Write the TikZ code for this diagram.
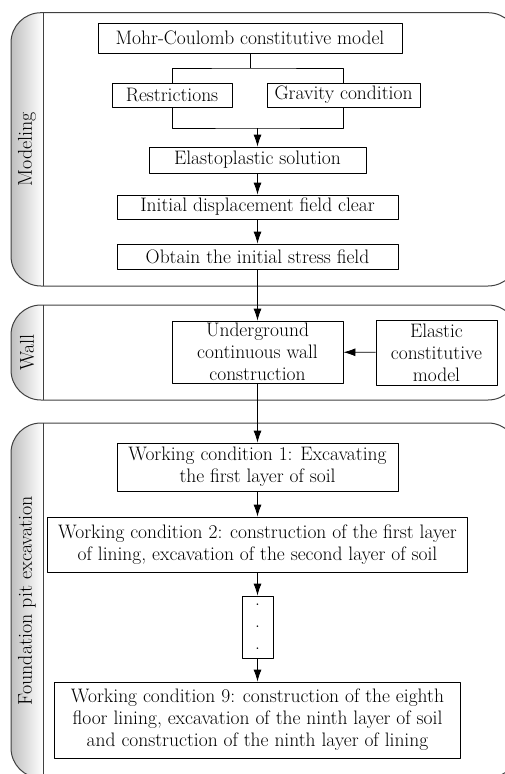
\documentclass[tikz,border=0pt]{standalone}
\usetikzlibrary{arrows.meta}
\begin{document}
\begin{tikzpicture}[x=1pt,y=-1pt,>={Latex[length=12pt,width=8pt]},line join=round,line width=.8pt,
	box/.style={draw,fill=white,inner sep=0pt,align=center,font=\fontsize{19.5}{22}\selectfont},
	lane/.style={draw=black!75,line width=1pt,rounded corners=30pt},
	strip/.style={left color=black!25,right color=white},
	lanetitle/.style={rotate=90,font=\fontsize{20}{22}\selectfont}]
	\def\xl{11} \def\xs{43} \def\xr{518} % mép các làn
	\useasboundingbox (0,0) rectangle (504,774);
	% các làn
	\foreach \id/\top/\bot/\name in {model/12.7/286/Modeling,wall/305/400/Wall,pit/423/778/Foundation pit excavation}{
		\begin{scope}
			\clip[rounded corners=30pt] (\xl,\top) rectangle (\xr,\bot);
			\shade[strip] (\xl,\top) rectangle (\xs,\bot);
		\end{scope}
		\draw[lane] (\xl,\top) rectangle (\xr,\bot);
		\draw[draw=black!75,line width=1pt] (\xs,\top) -- (\xs,\bot);
		\node[lanetitle] (\id) at ({(\xl+\xs)/2},{(\top+\bot)/2}) {\name};
	}
	% Modeling
	\node[box,minimum width=304pt,minimum height=30pt] (mohr) at (250,38) {Mohr-Coulomb constitutive model};
	\node[box,minimum width=120pt,minimum height=24pt] (restr) at (172,95) {Restrictions};
	\node[box,minimum width=153pt,minimum height=24pt] (grav) at (343.5,95) {Gravity condition};
	\node[box,minimum width=217pt,minimum height=26pt] (elasto) at (257.5,160) {Elastoplastic solution};
	\node[box,minimum width=281pt,minimum height=24pt] (disp) at (257.5,207) {Initial displacement field clear};
	\node[box,minimum width=281pt,minimum height=25pt] (stress) at (257.5,256.5) {Obtain the initial stress field};
	% Wall
	\node[box,minimum width=171pt,minimum height=62pt] (under) at (257.5,352) {Underground\\continuous wall\\construction};
	\node[box,minimum width=121pt,minimum height=65pt] (elastic) at (436.5,352.5) {Elastic\\constitutive\\model};
	% Foundation pit excavation
	\node[box,minimum width=281pt,minimum height=48pt] (wc1) at (257.5,467) {Working condition 1: Excavating\\the first layer of soil};
	\node[box,minimum width=420pt,minimum height=55pt] (wc2) at (257.5,544.5) {Working condition 2: construction of the first layer\\of lining, excavation of the second layer of soil};
	\node[box,minimum width=31pt,minimum height=62pt,text depth=-6pt] (dots) at (257.5,627) {.\\.\\.};
	\node[box,minimum width=406pt,minimum height=76pt] (wc9) at (257.5,720) {Working condition 9: construction of the eighth\\floor lining, excavation of the ninth layer of soil\\and construction of the ninth layer of lining};
	% mũi tên
	\coordinate (split) at (250,68);
	\coordinate (merge) at (257.5,128);
	\draw (mohr) -- (split);
	\draw (restr.north) |- (split) -| (grav.north);
	\draw (restr.south) |- (merge) -| (grav.south);
	\draw[->] (merge) -- (elasto);
	\draw[->] (elasto) -- (disp);
	\draw[->] (disp) -- (stress);
	\draw[->] (stress) -- (under);
	\draw[->] (elastic) -- (under);
	\draw[->] (under) -- (wc1);
	\draw[->] (wc1) -- (wc2);
	\draw[->] (wc2) -- (dots);
	\draw[->] (dots) -- (wc9);
\end{tikzpicture}
\end{document}
